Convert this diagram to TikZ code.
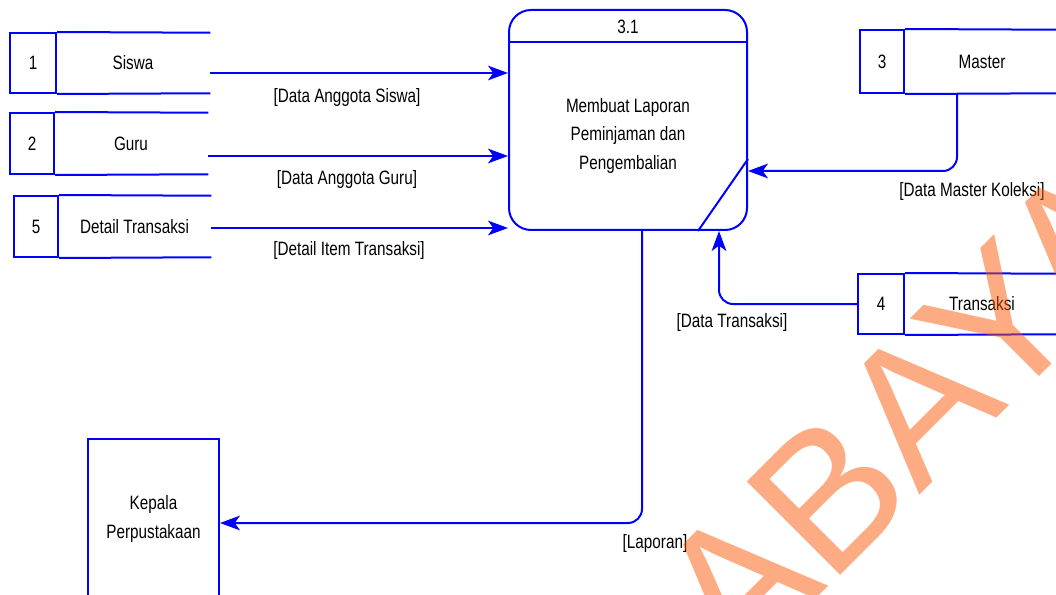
\documentclass[tikz,border=0pt]{standalone}
\usepackage{fontspec}
\setmainfont{Liberation Sans}[FakeStretch=0.79]
\newfontfamily\wmfont{Liberation Sans}
\usetikzlibrary{arrows.meta}
\definecolor{dfdblue}{RGB}{0,0,255}
\definecolor{wmorange}{RGB}{251,87,7}
% lengths given in pixels of the drawing grid
\newcommand{\pxl}[1]{#1*0.75pt}

\begin{document}
\begin{tikzpicture}[x=0.75pt,y=-0.75pt,
  every node/.style={inner sep=0pt, align=center, font=\fontsize{14.5}{21.4}\selectfont},
  line/.style={draw=dfdblue, line width=1.5pt},
  flow/.style={line, rounded corners=\pxl{14},
    -{Stealth[length=15pt,width=11pt,inset=4pt]}},
  numcell/.style={line, minimum width=\pxl{46}},
  namecell/.style={minimum width=\pxl{154}},
  process/.style={line, rounded corners=\pxl{22}, minimum width=\pxl{238}, minimum height=\pxl{220}},
  entity/.style={line, minimum width=\pxl{131}, minimum height=\pxl{160}},
  flowlabel/.style={},
  watermark/.style={anchor=base west, rotate=45, text=wmorange, text opacity=0.5,
    font=\wmfont\fontsize{144}{144}\selectfont}]

\useasboundingbox (0,0) rectangle (1056,595);
\clip (0,0) rectangle (1056,595);

% process 3.1
\node[process] (p) at (628,120) {};
\draw[line] ([yshift=-\pxl{33}]p.north west) -- ([yshift=-\pxl{33}]p.north east);
\draw[line] ([xshift=-\pxl{50}]p.south east) -- ([yshift=\pxl{72}]p.south east);
\node (pid) at (628,27) {3.1};
\node (ptext) at (628,136) {Membuat Laporan\\Peminjaman dan\\Pengembalian};

% data stores
\node[numcell, minimum height=\pxl{60}] (s1n) at (33,63) {1};
\node[namecell, minimum height=\pxl{60}] (s1t) at (133,63) {Siswa};
\draw[line] (s1n.north east) -- (s1t.north east) (s1n.south east) -- (s1t.south east);

\node[numcell, minimum width=\pxl{44}, minimum height=\pxl{61}] (s2n) at (32,143.5) {2};
\node[namecell, minimum height=\pxl{61}] (s2t) at (131,143.5) {Guru};
\draw[line] (s2n.north east) -- (s2t.north east) (s2n.south east) -- (s2t.south east);

\node[numcell, minimum width=\pxl{44}, minimum height=\pxl{61}] (s5n) at (36,226.5) {5};
\node[namecell, minimum width=\pxl{153}, minimum height=\pxl{61}] (s5t) at (134.5,226.5) {Detail Transaksi};
\draw[line] (s5n.north east) -- (s5t.north east) (s5n.south east) -- (s5t.south east);

\node[numcell, minimum width=\pxl{44}, minimum height=\pxl{63}] (s3n) at (882,61.5) {3};
\node[namecell, minimum width=\pxl{156}, minimum height=\pxl{63}] (s3t) at (982,61.5) {Master};
\draw[line] (s3n.north east) -- (s3t.north east) (s3n.south east) -- (s3t.south east);

\node[numcell, minimum height=\pxl{60}] (s4n) at (881,304) {4};
\node[namecell, minimum width=\pxl{156}, minimum height=\pxl{60}] (s4t) at (982,304) {Transaksi};
\draw[line] (s4n.north east) -- (s4t.north east) (s4n.south east) -- (s4t.south east);

% external entity
\node[entity] (k) at (153.5,519) {Kepala\\Perpustakaan};

% data flows
\draw[flow] (s1t.east |- 0,73) -- (p.west |- 0,73);
\draw[flow] (s2t.east |- 0,156) -- (p.west |- 0,156);
\draw[flow] (s5t.east |- 0,228) -- (p.west |- 0,228);
\draw[flow] (957,0 |- s3t.south) -- (957,171) -- (p.east |- 0,171);
\draw[flow] (s4n.west) -- (719,304) -- (719,0 |- p.south);
\draw[flow] (642,0 |- p.south) -- (642,523) -- (k.east |- 0,523);

% flow labels
\node[flowlabel] (l1) at (347,98) {[Data Anggota Siswa]};
\node[flowlabel] (l2) at (347,180) {[Data Anggota Guru]};
\node[flowlabel] (l5) at (349,251) {[Detail Item Transaksi]};
\node[flowlabel] (l3) at (972,192) {[Data Master Koleksi]};
\node[flowlabel] (l4) at (732,323) {[Data Transaksi]};
\node[flowlabel] (l6) at (655,543) {[Laporan]};

% watermark lettering
\node[watermark] (wm) at (738.6,677) {ABAYA};
\end{tikzpicture}
\end{document}
